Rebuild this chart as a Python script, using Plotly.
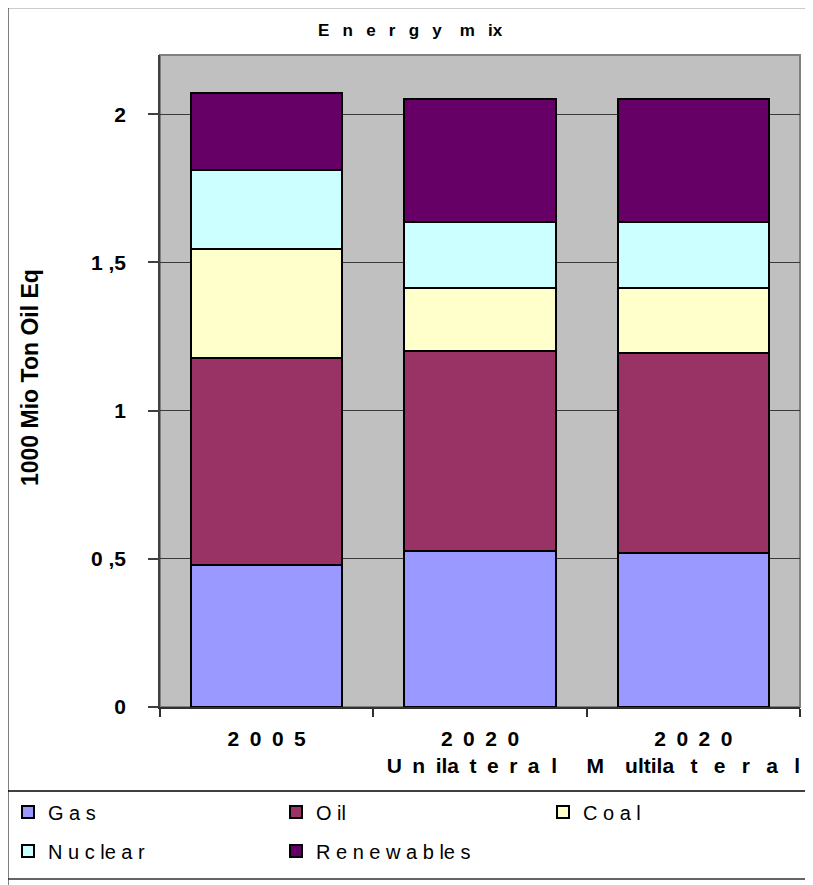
import plotly.graph_objects as go

# ---- data ----
categories = ["2005", "2020 Unilateral", "2020 Multilateral"]
tick_labels = ["2\u20020\u20020\u20025",
               "2\u20020\u20022\u20020<br>U\u2002n\u2002ila\u2002t\u2002e\u2002r\u2002a\u00a0\u00a0l\u2002\u00a0",
               "2\u20020\u20022\u20020<br>M\u2003ultila\u2002\u00a0t\u2002\u00a0e\u2002\u00a0r\u2002\u00a0a\u2002\u00a0l"]
series_names = ["Gas", "Oil", "Coal", "Nuclear", "Renewables"]
legend_labels = ["G a s", "O il", "C o a l", "N u c le a r", "R e n e w a b le s"]
gas = [0.479, 0.527, 0.520]
oil = [0.700, 0.673, 0.673]
coal = [0.368, 0.215, 0.222]
nuclear = [0.264, 0.220, 0.220]
renewables = [0.262, 0.418, 0.418]
y_tickvals = [0, 0.5, 1, 1.5, 2]
y_ticktext = ["0", "0 ,5", "1", "1 ,5", "2"]

colors = ["#9999FF", "#993366", "#FFFFCC", "#CCFFFF", "#660066"]
values = [gas, oil, coal, nuclear, renewables]

FONT = "Liberation Sans, Arial, sans-serif"
OFF = 8  # default page body margin
W, H = 813 - OFF, 885 - OFF
L, T = 160 - OFF, 55 - OFF
R = W - (800 - OFF)
B = H - (707 - OFF)
PW, PH = W - L - R, H - T - B


def px(x):  # screen x -> paper
    return (x - OFF - L) / PW


def py(y):  # screen y -> paper
    return (H - B - (y - OFF)) / PH


def cx(x):  # screen x -> container
    return (x - OFF) / W


def cy(y):  # screen y -> container
    return 1 - (y - OFF) / H


# legend slot (screen px) for each series: left x, row centre y
legend_slots = [(8, 812), (276, 812), (543, 812), (8, 851), (276, 851)]
legend_ids = ["legend", "legend2", "legend3", "legend4", "legend5"]

fig = go.Figure()
for name, lab, vals, col, lid in zip(series_names, legend_labels, values, colors, legend_ids):
    fig.add_trace(go.Bar(
        x=categories, y=vals, name=lab,
        marker=dict(color=col, line=dict(color="black", width=2)),
        legend=lid,
        hoverinfo="name+y",
    ))

shapes = [
    # outer frame
    dict(type="line", xref="paper", yref="paper", x0=px(7), x1=px(7), y0=py(6), y1=py(895),
         line=dict(color="black", width=3)),
    dict(type="line", xref="paper", yref="paper", x0=px(6), x1=px(830), y0=py(7), y1=py(7),
         line=dict(color="#303030", width=2.5)),
    # legend box
    dict(type="line", xref="paper", yref="paper", x0=px(7), x1=px(830), y0=py(791), y1=py(791),
         line=dict(color="black", width=1.5)),
    dict(type="line", xref="paper", yref="paper", x0=px(7), x1=px(830), y0=py(879), y1=py(879),
         line=dict(color="#303030", width=1.5)),
    # plot area border
    dict(type="rect", xref="paper", yref="paper", x0=0, x1=1, y0=0, y1=1,
         line=dict(color="#808080", width=2), layer="below"),
]

legends = {}
for lid, (sx, sy) in zip(legend_ids, legend_slots):
    legends[lid] = dict(orientation="v", xanchor="left", yanchor="middle",
                        xref="container", yref="container",
                        x=cx(sx), y=cy(sy), itemwidth=30,
                        font=dict(family=FONT, size=20, color="black"),
                        bgcolor="rgba(0,0,0,0)", borderwidth=0)

fig.update_layout(
    width=W, height=H,
    margin=dict(l=L, r=R, t=T, b=B, pad=0, autoexpand=False),
    paper_bgcolor="white",
    plot_bgcolor="#C0C0C0",
    barmode="stack",
    bargap=0.29,
    font=dict(family=FONT, color="black"),
    shapes=shapes,
    showlegend=True,
    xaxis=dict(
        tickmode="array", tickvals=categories, ticktext=tick_labels,
        tickson="boundaries", ticks="outside", ticklen=8, tickcolor="#303030", tickwidth=1.5,
        showline=True, linecolor="#303030", linewidth=1.5,
        tickfont=dict(family=FONT, size=21, color="black", weight="bold"),
        ticklabelstandoff=12, tickangle=0,
        showgrid=False,
    ),
    yaxis=dict(
        range=[0, 2.2], tickmode="array", tickvals=y_tickvals, ticktext=y_ticktext,
        ticks="outside", ticklen=10, tickcolor="#404040", tickwidth=1.5,
        showline=True, linecolor="#404040", linewidth=1.5,
        showgrid=True, gridcolor="#3a3a3a", gridwidth=1, zeroline=False,
        tickfont=dict(family=FONT, size=21, color="black", weight="bold"),
        ticklabelstandoff=18,
    ),
    annotations=[
        dict(text="E\u00a0\u2002n\u00a0\u2002e\u00a0\u2002r\u00a0\u2002g\u00a0\u2002y\u00a0\u2002\u00a0m\u00a0\u2002ix",
             xref="paper", yref="paper",
             x=px(410), y=py(30), xanchor="center", yanchor="middle", showarrow=False,
             font=dict(family=FONT, size=17, color="black", weight="bold")),
        dict(text="1000 Mio Ton Oil Eq", xref="paper", yref="paper",
             x=px(30), y=py(378), xanchor="center", yanchor="middle", showarrow=False,
             textangle=-90,
             font=dict(family=FONT, size=23, color="black", weight="bold")),
    ],
    **legends,
)

fig.write_html("out.html")
